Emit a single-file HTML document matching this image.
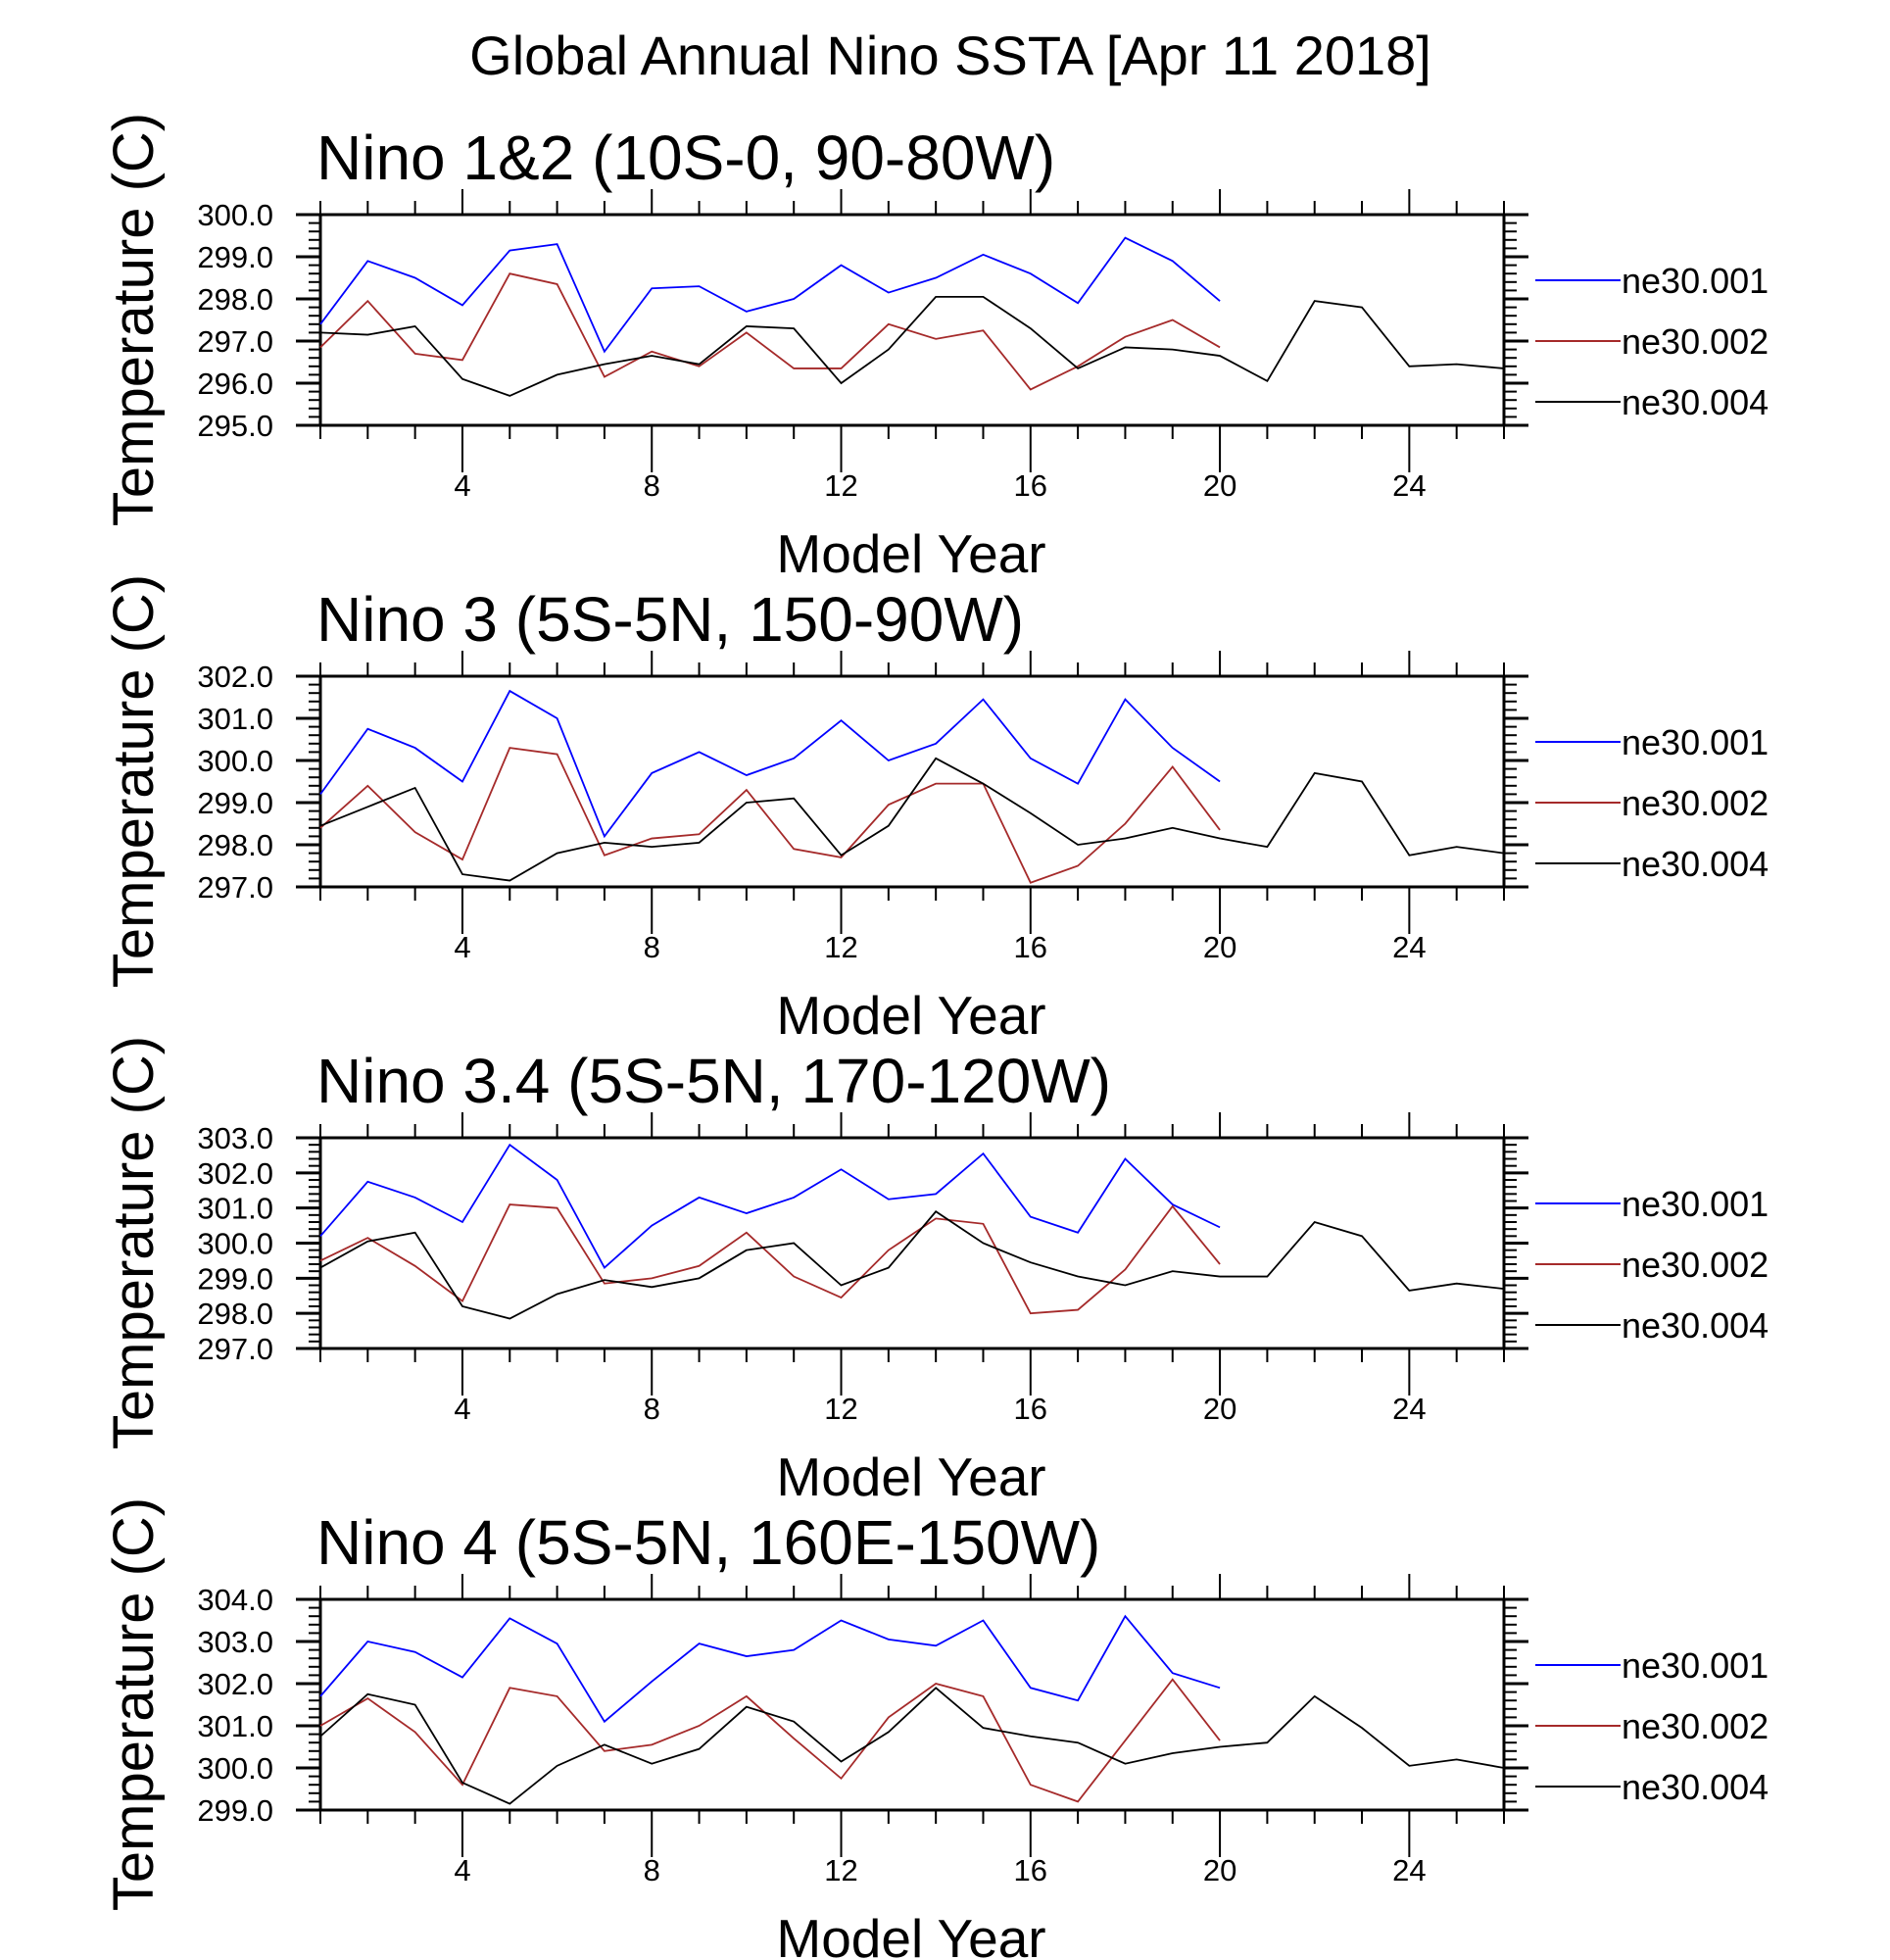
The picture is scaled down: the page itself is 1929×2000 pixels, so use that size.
<!DOCTYPE html>
<html><head><meta charset="utf-8"><style>
html,body{margin:0;padding:0;background:#fff}
svg{display:block;font-family:"Liberation Sans",sans-serif}
</style></head><body>
<svg id="c" width="1929" height="2000" viewBox="0 0 1929 2000" xmlns="http://www.w3.org/2000/svg">
<text x="970" y="76" font-size="56" text-anchor="middle">Global Annual Nino SSTA [Apr 11 2018]</text>
</svg>
<script>
const panelTitles = ["Nino 1&2 (10S-0, 90-80W)","Nino 3 (5S-5N, 150-90W)","Nino 3.4 (5S-5N, 170-120W)","Nino 4 (5S-5N, 160E-150W)"];
const yMins = [295,297,297,299];
const yMaxs = [300,302,303,304];
const seriesNames = ["ne30.001","ne30.002","ne30.004"];
const xTicks = [4,8,12,16,20,24];
const ne001 = [
[297.4,298.9,298.5,297.85,299.15,299.3,296.75,298.25,298.3,297.7,298.0,298.8,298.15,298.5,299.05,298.6,297.9,299.45,298.9,297.95],
[299.2,300.75,300.3,299.5,301.65,301.0,298.2,299.7,300.2,299.65,300.05,300.95,300.0,300.4,301.45,300.05,299.45,301.45,300.3,299.5],
[300.2,301.75,301.3,300.6,302.8,301.8,299.3,300.5,301.3,300.85,301.3,302.1,301.25,301.4,302.55,300.75,300.3,302.4,301.1,300.45],
[301.7,303.0,302.75,302.15,303.55,302.95,301.1,302.05,302.95,302.65,302.8,303.5,303.05,302.9,303.5,301.9,301.6,303.6,302.25,301.9]];
const ne002 = [
[296.85,297.95,296.7,296.55,298.6,298.35,296.15,296.75,296.4,297.2,296.35,296.35,297.4,297.05,297.25,295.85,296.4,297.1,297.5,296.85],
[298.4,299.4,298.3,297.65,300.3,300.15,297.75,298.15,298.25,299.3,297.9,297.7,298.95,299.45,299.45,297.1,297.5,298.5,299.85,298.35],
[299.5,300.15,299.35,298.35,301.1,301.0,298.85,299.0,299.35,300.3,299.05,298.45,299.8,300.7,300.55,298.0,298.1,299.25,301.05,299.4],
[301.0,301.65,300.85,299.6,301.9,301.7,300.4,300.55,301.0,301.7,300.7,299.75,301.2,302.0,301.7,299.6,299.2,300.65,302.1,300.65]];
const ne004 = [
[297.2,297.15,297.35,296.1,295.7,296.2,296.45,296.65,296.45,297.35,297.3,296.0,296.8,298.05,298.05,297.3,296.35,296.85,296.8,296.65,296.05,297.95,297.8,296.4,296.45,296.35],
[298.45,298.9,299.35,297.3,297.15,297.8,298.05,297.95,298.05,299.0,299.1,297.75,298.45,300.05,299.45,298.75,298.0,298.15,298.4,298.15,297.95,299.7,299.5,297.75,297.95,297.8],
[299.3,300.05,300.3,298.2,297.85,298.55,298.95,298.75,299.0,299.8,300.0,298.8,299.3,300.9,300.0,299.45,299.05,298.8,299.2,299.05,299.05,300.6,300.2,298.65,298.85,298.7],
[300.75,301.75,301.5,299.65,299.15,300.05,300.55,300.1,300.45,301.45,301.1,300.15,300.85,301.9,300.95,300.75,300.6,300.1,300.35,300.5,300.6,301.7,300.95,300.05,300.2,300.0]];
const colors = ["#0000ff","#a52a2a","#000000"];
const svg = document.getElementById('c');
const NS = "http://www.w3.org/2000/svg";
function mk(tag, attrs, parent){const e=document.createElementNS(NS,tag);for(const k in attrs)e.setAttribute(k,attrs[k]);(parent||svg).appendChild(e);return e;}
const L=327,R=1535,H=215;
const xS = v => L + (v-1)*(R-L)/25;
for(let p=0;p<4;p++){
  const T = 219 + p*471, B = T+H;
  const yS = v => B - (v-yMins[p])*H/(yMaxs[p]-yMins[p]);
  const g = mk('g',{});
  
  
  const t = mk('text',{x:323,y:T-36,'font-size':64},g); t.textContent=panelTitles[p];
   
  const yl = mk('text',{transform:`translate(156,${T+107}) rotate(-90)`,'font-size':58,'text-anchor':'middle'},g); yl.textContent='Temperature (C)';
   
  const xl = mk('text',{x:930,y:B+150,'font-size':55,'text-anchor':'middle'},g); xl.textContent='Model Year';
   
  for(let yr=1;yr<=26;yr++){
    const x=xS(yr), major = yr%4===0;
    mk('line',{x1:x,x2:x,y1:T,y2:T-(major?26:14),stroke:'#000','stroke-width':2},g);
    mk('line',{x1:x,x2:x,y1:B,y2:B+(major?48:14),stroke:'#000','stroke-width':2},g);
  }
  xTicks.forEach(v=>{const tx=mk('text',{x:xS(v),y:B+72,'font-size':31,'text-anchor':'middle'},g);tx.textContent=v;
    });
  const span=yMaxs[p]-yMins[p];
  for(let i=0;i<=span*5;i++){
    const v=yMins[p]+i*0.2, y=yS(v), major=i%5===0;
    mk('line',{x1:L,x2:L-(major?25:12),y1:y,y2:y,stroke:'#000','stroke-width':major?3:2},g);
    mk('line',{x1:R,x2:R+(major?25:13),y1:y,y2:y,stroke:'#000','stroke-width':major?3:2},g);
    if(major){const ty=mk('text',{x:279,y:y+11,'font-size':31,'text-anchor':'end'},g);ty.textContent=v.toFixed(1);
      }
  }
  mk('rect',{x:L,y:T,width:R-L,height:H,fill:'none',stroke:'#000','stroke-width':3},g);
  const sets=[ne001[p],ne002[p],ne004[p]];
  sets.forEach((arr,si)=>{
    const pts=arr.map((v,i)=>xS(i+1)+','+yS(v)).join(' ');
    const pl=mk('polyline',{points:pts,fill:'none',stroke:colors[si],'stroke-width':1.8},g);
    
    
    const ly=T+67+si*62;
    const ll=mk('line',{x1:1567,x2:1654,y1:ly,y2:ly,stroke:colors[si],'stroke-width':2},g);
    
    const lt=mk('text',{x:1655,y:ly+13,'font-size':36},g);lt.textContent=seriesNames[si];
    
  });
}
</script>
</body></html>
